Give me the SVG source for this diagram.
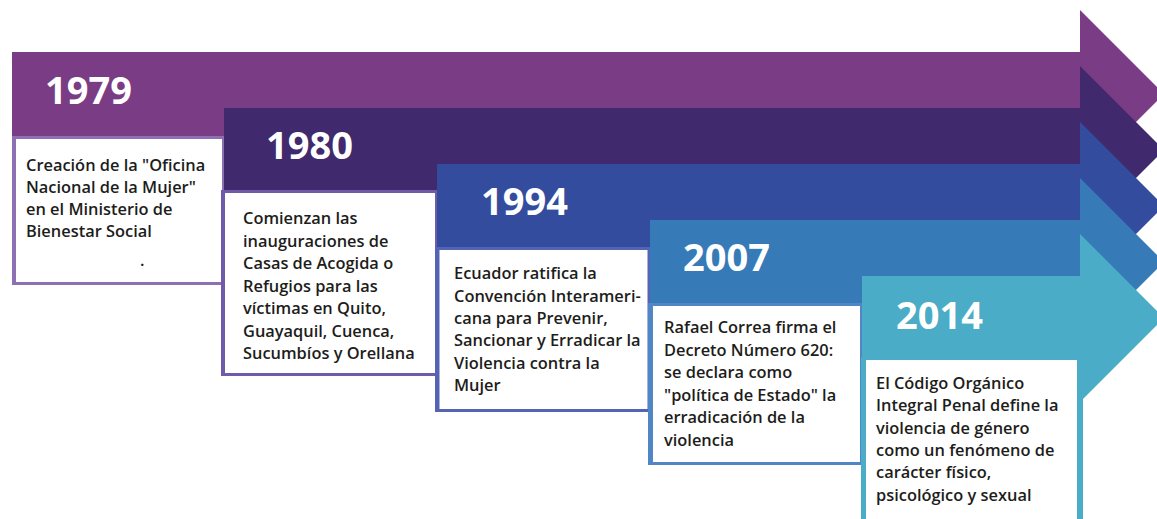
<svg xmlns="http://www.w3.org/2000/svg" width="1157" height="519" viewBox="0 0 1157 519">
<style>
.year{font-family:"Open Sans","Liberation Sans",sans-serif;font-weight:700;font-size:38px;fill:#ffffff}
.body{font-family:"Open Sans","Liberation Sans",sans-serif;font-weight:600;font-size:16.4px;fill:#1d1d1b}
.inner{fill:#ffffff}
</style>
<rect width="1157" height="519" fill="#ffffff"/>
<g id="connectors"/>
<g id="event-1979">
<path d="M12 52 H1080 V10 L1164 94 L1080 178 V136 H12 Z" fill="#7a3c84"/>
<rect x="12" y="136" width="212" height="149" fill="#8d6fb3"/>
<rect class="inner" x="16" y="139" width="206" height="143"/>
<text class="year" x="45" y="104">1979</text>
<text class="body" x="26" y="171">Creación de la "Oficina</text>
<text class="body" x="26" y="193">Nacional de la Mujer"</text>
<text class="body" x="26" y="214.5">en el Ministerio de</text>
<text class="body" x="26" y="236.5">Bienestar Social</text>
<text class="body" x="140" y="266">.</text>
</g>
<g id="event-1980">
<path d="M224 108 H1080 V66 L1164 150 L1080 234 V192 H224 Z" fill="#40296c"/>
<rect x="221" y="190" width="216" height="186" fill="#6f5ba9"/>
<rect class="inner" x="225" y="193" width="210" height="180"/>
<text class="year" x="266" y="159">1980</text>
<text class="body" x="243" y="224">Comienzan las</text>
<text class="body" x="243" y="246.5">inauguraciones de</text>
<text class="body" x="243" y="269">Casas de Acogida o</text>
<text class="body" x="243" y="291.5">Refugios para las</text>
<text class="body" x="243" y="314">víctimas en Quito,</text>
<text class="body" x="243" y="336.5">Guayaquil, Cuenca,</text>
<text class="body" x="243" y="359">Sucumbíos y Orellana</text>
</g>
<g id="event-1994">
<path d="M437 164 H1080 V122 L1164 206 L1080 290 V248 H437 Z" fill="#344c9e"/>
<rect x="435" y="247" width="215" height="165" fill="#5464b4"/>
<rect class="inner" x="439.5" y="250" width="208" height="159"/>
<text class="year" x="481" y="215">1994</text>
<text class="body" x="454" y="279">Ecuador ratifica la</text>
<text class="body" x="454" y="301.5">Convención Interameri-</text>
<text class="body" x="454" y="323.5">cana para Prevenir,</text>
<text class="body" x="454" y="346">Sancionar y Erradicar la</text>
<text class="body" x="454" y="368.5">Violencia contra la</text>
<text class="body" x="454" y="391">Mujer</text>
</g>
<g id="event-2007">
<path d="M650 220 H1080 V178 L1164 262 L1080 346 V304 H650 Z" fill="#377ab8"/>
<rect x="648" y="303" width="214" height="162" fill="#4f86c3"/>
<rect class="inner" x="653" y="306" width="207" height="156"/>
<text class="year" x="683" y="271">2007</text>
<text class="body" x="664" y="333">Rafael Correa firma el</text>
<text class="body" x="664" y="355.5">Decreto Número 620:</text>
<text class="body" x="664" y="378">se declara como</text>
<text class="body" x="664" y="400.5">"política de Estado" la</text>
<text class="body" x="664" y="423">erradicación de la</text>
<text class="body" x="664" y="445.5">violencia</text>
</g>
<g id="event-2014">
<path d="M862 276 H1080 V234 L1164 318 L1080 402 V360 H862 Z" fill="#4aacc6"/>
<rect x="861" y="357" width="222" height="162" fill="#4aacc6"/>
<rect class="inner" x="866" y="360" width="211" height="159"/>
<text class="year" x="896" y="329">2014</text>
<text class="body" x="876" y="389">El Código Orgánico</text>
<text class="body" x="876" y="411">Integral Penal define la</text>
<text class="body" x="876" y="433.5">violencia de género</text>
<text class="body" x="876" y="456">como un fenómeno de</text>
<text class="body" x="876" y="478">carácter físico,</text>
<text class="body" x="876" y="500.5">psicológico y sexual</text>
</g>
</svg>
